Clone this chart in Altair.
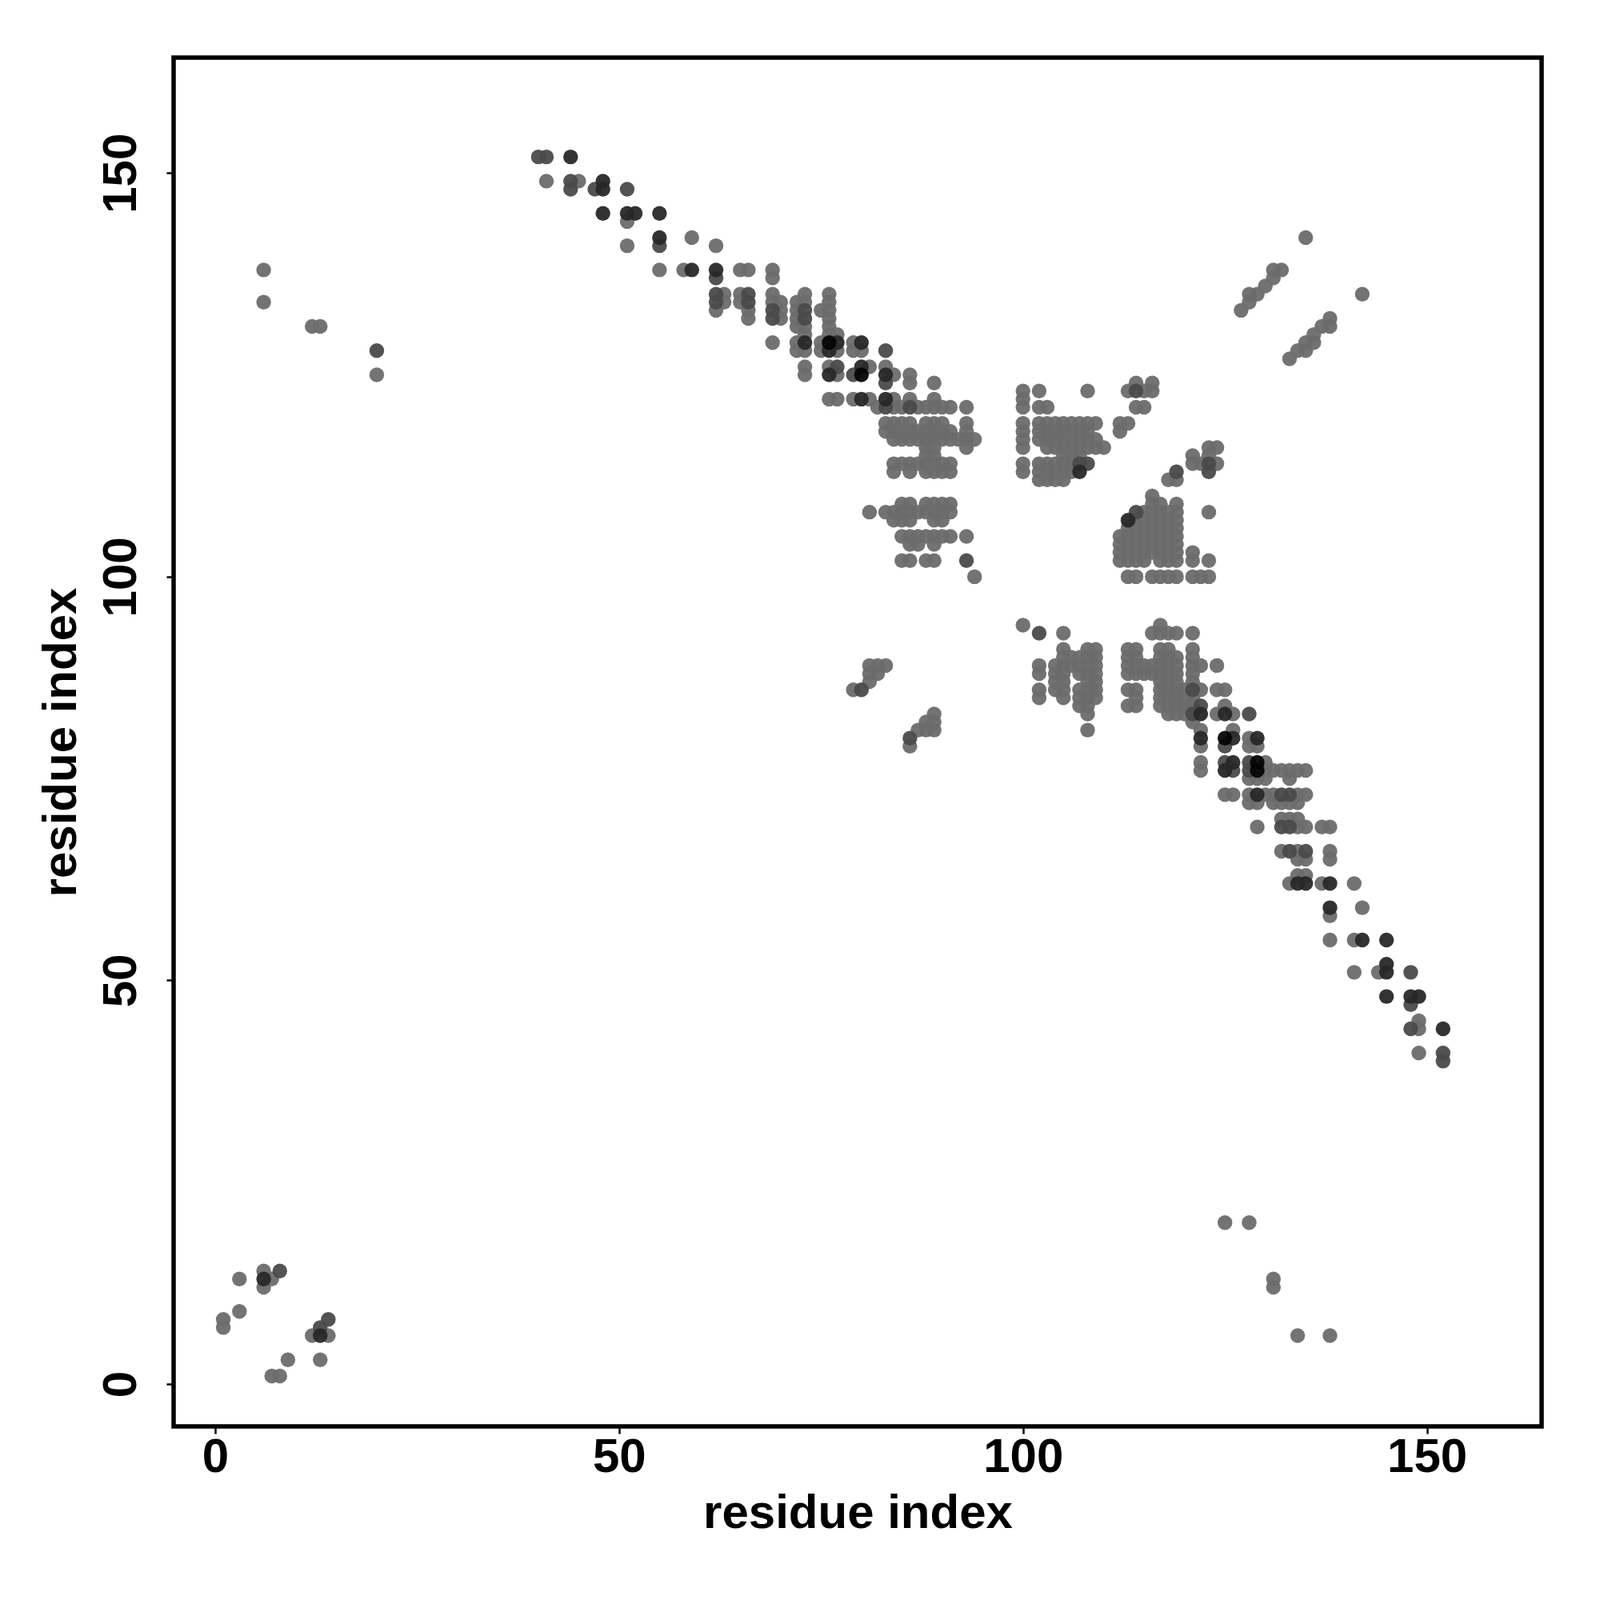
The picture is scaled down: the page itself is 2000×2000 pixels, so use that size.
import altair as alt
import pandas as pd

# residue contacts: row (y residue) -> x residues
rows = {
 152:[40,41,44], 149:[41,44,45,48], 148:[44,47,48,51], 145:[48,51,52,55], 144:[51],
 142:[55,59,135], 141:[51,55,62], 138:[6,55,58,59,62,65,66,69,131,132], 137:[62,69,131],
 136:[130], 135:[62,63,65,66,69,73,76,128,129,142],
 134:[6,62,63,65,66,69,70,72,73,76,128],
 133:[62,66,69,70,72,73,75,76,127], 132:[66,69,70,72,73,76,138],
 131:[12,13,72,73,76,137,138], 130:[73,76,77,136],
 129:[69,72,73,75,76,77,79,80,135,136], 128:[20,72,73,75,76,77,79,80,83,134,135],
 127:[133],
 126:[73,76,77,80,81,83], 125:[20,73,76,77,79,80,83,84,86], 124:[83,86,89,114,116],
 123:[100,102,108,113,114,115,116], 122:[76,77,79,80,81,83,84,86,89,100],
 121:[82,83,84,85,86,87,88,89,90,91,93,100,102,103,114,115],
 119:[83,84,85,86,88,89,90,93,100,102,103,104,105,106,107,108,109,112,113],
 118:[83,84,85,86,87,88,89,90,91,93,100,102,103,104,105,106,107,108,112],
 117:[84,85,86,87,88,89,90,91,92,93,94,100,102,103,104,105,106,107,108,109],
 116:[88,89,93,100,103,104,105,106,107,108,109,110,123,124],
 115:[88,89,105,106,107,121,123],
 114:[84,85,86,87,88,89,90,91,100,102,103,104,105,106,107,108,121,122,123,124],
 113:[84,86,88,89,90,91,100,102,103,104,105,106,107,119,123],
 112:[102,103,104,105,118,119], 110:[116],
 109:[85,86,88,89,90,91,116,117,119],
 108:[81,83,84,85,86,87,88,89,90,91,114,115,116,117,118,119,123],
 107:[84,85,86,89,90,113,114,115,116,117,118,119],
 106:[113,114,115,116,117,118,119],
 105:[85,86,87,88,89,90,91,93,112,113,114,115,116,117,118,119],
 104:[86,87,89,112,113,114,115,116,117,118,119],
 103:[112,113,114,115,116,117,118,119,121],
 102:[85,86,88,89,93,112,113,114,115,117,118,119,121,123],
 100:[94,113,114,116,117,118,119,121,122,123],
 94:[100,117], 93:[102,105,116,117,118,119,121],
 91:[105,108,109,113,114,117,118,121], 90:[105,106,107,108,109,113,114,117,118,119,121],
 89:[81,82,83,102,104,105,106,107,108,109,113,114,115,116,117,118,119,121,122,124],
 88:[81,82,102,104,105,107,108,109,113,114,115,116,117,118,119,121],
 87:[81,104,105,108,109,117,118,119,121],
 86:[79,80,102,104,105,107,108,109,113,114,117,118,119,120,121,122,124,125],
 85:[102,105,107,108,109,114,117,118,119,120,121],
 84:[107,108,113,114,117,118,119,120,121,122,125],
 83:[89,108,118,119,120,121,122,124,125,126,128],
 82:[88,89,121], 81:[87,88,89,108,122,126],
 80:[86,122,125,126,128,129], 79:[86,122,125,128,129],
 77:[122,125,126,128,129,130],
 76:[122,125,126,128,129,130,131,132,133,134,135], 75:[128,129,130,133],
 73:[125,126,128,129,130,131,132,133,134,135], 72:[128,129,131,132,133,134],
 70:[132,133,134], 69:[129,132,133,134,135,137,138],
 66:[132,133,134,135,138], 65:[134,135,138], 63:[134,135],
 62:[133,134,135,137,138,141], 59:[138,142], 58:[138],
 55:[138,141,142,145], 52:[145], 51:[141,144,145,148], 48:[145,148,149], 47:[148],
 45:[149], 44:[148,149,152], 41:[149,152], 40:[152],
 20:[125,128], 14:[6,8], 13:[3,6,7,131], 12:[6,131], 9:[3], 8:[1,14], 7:[1,13],
 6:[12,13,14,134,138], 3:[9,13], 1:[7,8],
}

# contacts drawn darker than the base grey: (x, y)
mid_pts = [(40,152),(41,152),(44,149),(44,148),(47,148),(51,148),(55,141),(62,137),(62,135),(66,135),
 (62,134),(66,134),(69,133),(73,133),(69,132),(73,132),(83,128),(77,126),(79,125),(83,124),(83,121),(86,121),
 (121,86),(122,84),(121,83),(128,83),(125,79),(125,77),(128,77),(126,76),(128,76),(132,73),(133,73),
 (132,69),(133,69),(133,66),(135,66),(148,51),(148,47),(148,44),(152,41),(152,40),
 (108,114),(107,114),(114,108),(114,123),(119,113),(123,114),(123,113),(80,86),(86,80),
 (102,93),(93,102),(20,128),(8,14),(14,8),(13,7)]
dark_pts = [(44,152),(48,149),(48,148),(48,145),(51,145),(52,145),(55,145),(55,142),(59,138),(62,138),
 (73,129),(77,129),(80,129),(76,128),(80,126),(76,125),(83,125),(80,122),(83,122),
 (122,83),(125,83),(122,80),(126,80),(129,80),(126,77),(125,76),(129,73),(134,62),(135,62),(138,62),
 (138,59),(142,55),(145,55),(145,52),(145,51),(145,48),(148,48),(149,48),(152,44),
 (107,113),(113,107),(6,13),(13,6)]
black_pts = [(76,129),(80,125),(125,80),(129,77),(129,76)]

axis_ticks = [0, 50, 100, 150]
axis_title = "residue index"

records = []
for yv, xs in rows.items():
    for xv in xs:
        p = (xv, yv)
        s = 3 if p in black_pts else 2 if p in dark_pts else 1 if p in mid_pts else 0
        records.append({"x": xv, "y": yv, "shade": s})
df = pd.DataFrame(records).sort_values("shade")

font = "Liberation Sans"
def make_axis(angle, label_pad, title_pad, **kw):
    return alt.Axis(values=axis_ticks, grid=False, domain=False, tickColor="black", tickWidth=2.5,
                    tickSize=9, labelFont=font, labelFontWeight="bold", labelFontSize=60, labelColor="black",
                    titleFont=font, titleFontWeight="bold", titleFontSize=60, titleColor="black",
                    labelAngle=angle, labelPadding=label_pad, titlePadding=title_pad, labelFlush=False,
                    labelOverlap=False, title=axis_title, **kw)

chart = alt.Chart(df).mark_circle(size=340, opacity=0.95).encode(
    x=alt.X("x:Q", scale=alt.Scale(domain=[-5.15, 164.2], nice=False, zero=False),
            axis=make_axis(0, 0, 11)),
    y=alt.Y("y:Q", scale=alt.Scale(domain=[-5.25, 164.3], nice=False, zero=False),
            axis=make_axis(270, 26, 14, labelBaseline="bottom", labelAlign="center")),
    color=alt.Color("shade:O", scale=alt.Scale(domain=[0, 1, 2, 3],
                    range=["#6b6b6b", "#4a4a4a", "#282828", "#050505"]), legend=None),
).properties(
    width=1710, height=1711,
    background="white",
    autosize=alt.AutoSizeParams(type="none"),
    padding={"left": 209, "top": 64, "right": 60, "bottom": 200},
).configure_view(stroke="black", strokeWidth=5.5)

chart.save("out.html", embed_options={"renderer": "svg", "actions": False})
